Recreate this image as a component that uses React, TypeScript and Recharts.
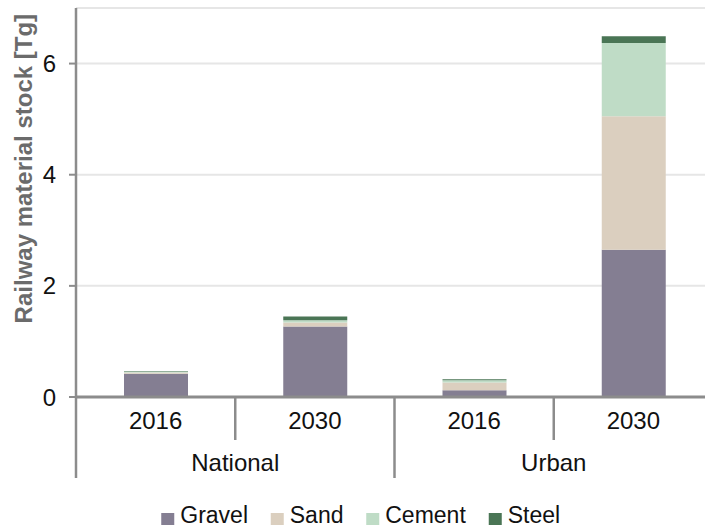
import React from 'react';
import { BarChart, Bar, XAxis, YAxis, CartesianGrid, Legend, Label } from 'recharts';

const categories = ['2016', '2030', '2016', '2030'];
const groups = ['National', 'National', 'Urban', 'Urban'];
const gravel = [0.42, 1.27, 0.12, 2.65];
const sand = [0.02, 0.07, 0.14, 2.4];
const cement = [0.02, 0.04, 0.04, 1.32];
const steel = [0.01, 0.07, 0.02, 0.12];
const yTicks = [0, 2, 4, 6];
const seriesNames = ['Gravel', 'Sand', 'Cement', 'Steel'];
const seriesColors = ['#847e92', '#dbcfbf', '#bfdcc6', '#4a7555'];
const yTitle = 'Railway material stock [Tg]';

const data = categories.map((c, i) => ({
  key: `${groups[i]}-${c}`,
  year: c,
  group: groups[i],
  Gravel: gravel[i],
  Sand: sand[i],
  Cement: cement[i],
  Steel: steel[i],
}));

const AXIS = '#8c8c8c';
const FONT = '"Liberation Sans", Arial, Helvetica, sans-serif';
const FS = 24;
const LFS = 23;

function CategoryTick(props: any) {
  const { x, y, payload, index } = props;
  const half = payload && payload.offset ? payload.offset : 79.6;
  const band = half * 2;
  const row = data[index];
  if (!row) return null;
  const next = data[index + 1];
  const prev = data[index - 1];
  const groupEnd = !next || next.group !== row.group;
  const groupStart = !prev || prev.group !== row.group;
  let lastIdx = index;
  while (data[lastIdx + 1] && data[lastIdx + 1].group === row.group) lastIdx++;
  const groupCenter = x + ((lastIdx - index) / 2) * band;
  return (
    <g>
      <text x={x} y={y + 23} dy="0.355em" textAnchor="middle" fontSize={FS} fill="#111" fontFamily={FONT}>
        {row.year}
      </text>
      {index === 0 && (
        <line x1={x - half} x2={x - half} y1={y} y2={y + 81} stroke={AXIS} strokeWidth={2.5} />
      )}
      <line x1={x + half} x2={x + half} y1={y} y2={groupEnd ? y + 81 : y + 43} stroke={AXIS} strokeWidth={2.5} />
      {groupStart && (
        <text x={groupCenter} y={y + 65} dy="0.355em" textAnchor="middle" fontSize={FS} fill="#111" fontFamily={FONT}>
          {row.group}
        </text>
      )}
    </g>
  );
}

function LegendContent() {
  const widths = [68, 54, 81, 52];
  const gap = 22.5;
  const sq = 13;
  const sqGap = 6;
  const total = widths.reduce((a, w) => a + sq + sqGap + w, 0) + gap * (widths.length - 1);
  let cx = 360.5 - total / 2;
  return (
    <svg width={705} height={28} style={{ display: 'block' }}>
      {seriesNames.map((n, i) => {
        const x0 = cx;
        cx += sq + sqGap + widths[i] + gap;
        return (
          <g key={n}>
            <rect x={x0} y={13} width={sq} height={12} fill={seriesColors[i]} />
            <text x={x0 + sq + sqGap} y={23} fontSize={LFS} fill="#111" fontFamily={FONT}>
              {n}
            </text>
          </g>
        );
      })}
    </svg>
  );
}

function YTitle(props: any) {
  const vb = props.viewBox || { x: 0, y: 8, width: 76, height: 389 };
  const cx = vb.x + 24;
  const cy = vb.y + vb.height * 0.413;
  return (
    <text
      x={cx}
      y={cy}
      transform={`rotate(-90, ${cx}, ${cy})`}
      textAnchor="middle"
      dominantBaseline="central"
      fontSize={FS}
      fontWeight="bold"
      fill="#6b6b6b"
      fontFamily={FONT}
    >
      {yTitle}
    </text>
  );
}

export default function App() {
  return (
    <div style={{ position: 'absolute', top: 0, left: 0, width: 705, height: 528, overflow: 'hidden', background: '#fff' }}>
      <BarChart
        width={713}
        height={528}
        data={data}
        margin={{ top: 8, right: 0, left: 0, bottom: 22 }}
        style={{ fontFamily: FONT }}
      >
        <CartesianGrid horizontal vertical={false} stroke="#e6e6e6" strokeWidth={2} />
        <XAxis
          dataKey="key"
          height={81}
          tickSize={0}
          tickMargin={0}
          tickLine={false}
          axisLine={{ stroke: AXIS, strokeWidth: 3 }}
          tick={<CategoryTick />}
          interval={0}
        />
        <YAxis
          domain={[0, 7]}
          ticks={yTicks}
          width={76}
          tickSize={7}
          tickMargin={13}
          allowDataOverflow
          axisLine={{ stroke: AXIS, strokeWidth: 2.5 }}
          tickLine={{ stroke: AXIS, strokeWidth: 2 }}
          tick={{ fontSize: FS, fill: '#111', fontFamily: FONT }}
        >
          <Label content={<YTitle />} />
        </YAxis>
        <Legend
          verticalAlign="bottom"
          height={28}
          wrapperStyle={{ top: 500, bottom: 'auto', left: 0, width: 705, height: 28, lineHeight: 0 }}
          content={<LegendContent />}
        />
        {seriesNames.map((n, i) => (
          <Bar key={n} dataKey={n} stackId="a" fill={seriesColors[i]} barSize={64} isAnimationActive={false} />
        ))}
      </BarChart>
    </div>
  );
}
